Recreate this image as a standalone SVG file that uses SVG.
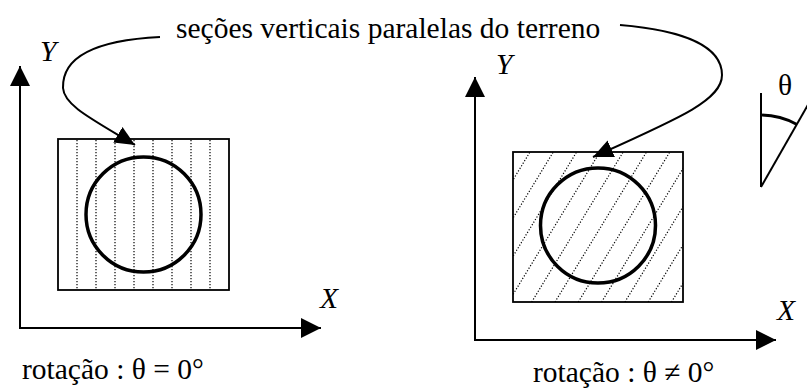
<svg xmlns="http://www.w3.org/2000/svg" width="807" height="391" viewBox="0 0 807 391">
<style>
.t{font-family:"Liberation Serif","Times New Roman","DejaVu Serif",serif;font-size:29.5px;fill:#000}
.i{font-style:italic}
.ax{stroke:#000;stroke-width:2;fill:none}
.frame{stroke:#000;stroke-width:1.8;fill:none}
.circ{stroke:#000;stroke-width:3.5;fill:none}
.dot{stroke:#000;stroke-width:1.2;stroke-dasharray:1.2 1.8;fill:none}
.conn{stroke:#000;stroke-width:2;fill:none}
</style>
<defs>
<marker id="ah" viewBox="0 0 20 20" refX="20" refY="10" markerWidth="20" markerHeight="20" markerUnits="userSpaceOnUse" orient="auto">
<path d="M0,0 L20,10 L0,20 z" fill="#000"/>
</marker>
<marker id="ah2" viewBox="0 0 20 20" refX="20" refY="10" markerWidth="20" markerHeight="20" markerUnits="userSpaceOnUse" orient="auto">
<path d="M0,1 L20,10 L0,19 z" fill="#000"/>
</marker>
<clipPath id="cr"><rect x="513" y="152" width="170" height="150"/></clipPath>
</defs>
<text class="t" x="176" y="38">seções verticais paralelas do terreno</text>
<g id="left-panel">
<path class="ax" d="M20,328 V66" marker-end="url(#ah)"/>
<path class="ax" d="M19,328 H321" marker-end="url(#ah)"/>
<text class="t i" x="40" y="61">Y</text>
<text class="t i" x="320" y="308">X</text>
<g>
<line class="dot" x1="77" y1="140" x2="77" y2="290"/>
<line class="dot" x1="96" y1="140" x2="96" y2="290"/>
<line class="dot" x1="115" y1="140" x2="115" y2="290"/>
<line class="dot" x1="134" y1="140" x2="134" y2="290"/>
<line class="dot" x1="153" y1="140" x2="153" y2="290"/>
<line class="dot" x1="172" y1="140" x2="172" y2="290"/>
<line class="dot" x1="191" y1="140" x2="191" y2="290"/>
<line class="dot" x1="210" y1="140" x2="210" y2="290"/>
</g>
<rect class="frame" x="58" y="139" width="171" height="151"/>
<circle class="circ" cx="143.5" cy="214.5" r="57.5"/>
<text class="t" x="22" y="379">rotação : θ = 0°</text>
</g>
<g id="right-panel">
<path class="ax" d="M475,340 V77" marker-end="url(#ah)"/>
<path class="ax" d="M474,340 H776" marker-end="url(#ah)"/>
<text class="t i" x="496" y="74">Y</text>
<text class="t i" x="777" y="320">X</text>
<g clip-path="url(#cr)">
<line class="dot" x1="438.5" y1="302" x2="530" y2="152"/>
<line class="dot" x1="461.8" y1="302" x2="553.3" y2="152"/>
<line class="dot" x1="485.1" y1="302" x2="576.6" y2="152"/>
<line class="dot" x1="508.4" y1="302" x2="599.9" y2="152"/>
<line class="dot" x1="531.7" y1="302" x2="623.2" y2="152"/>
<line class="dot" x1="555" y1="302" x2="646.5" y2="152"/>
<line class="dot" x1="578.3" y1="302" x2="669.8" y2="152"/>
<line class="dot" x1="601.6" y1="302" x2="693.1" y2="152"/>
<line class="dot" x1="624.9" y1="302" x2="716.4" y2="152"/>
<line class="dot" x1="648.2" y1="302" x2="739.7" y2="152"/>
<line class="dot" x1="671.5" y1="302" x2="763" y2="152"/>
</g>
<rect class="frame" x="513" y="152" width="170" height="150"/>
<circle class="circ" cx="598" cy="225.5" r="57.5"/>
<text class="t" x="533" y="382">rotação : θ ≠ 0°</text>
</g>
<g id="angle">
<line class="ax" x1="761" y1="93" x2="761" y2="187"/>
<line class="ax" x1="761" y1="187" x2="813" y2="96"/>
<path d="M761,115 A72,72 0 0 1 796.5,124.3" stroke="#000" stroke-width="2.8" fill="none"/>
<text class="t" x="778" y="95">θ</text>
</g>
<g id="connectors">
<path class="conn" d="M160,37 C100,40 62,55 63,88 C64,105 90,118 135,145" marker-end="url(#ah2)"/>
<path class="conn" d="M620,25 C680,30 722,45 722,75 C722,100 680,118 593,157" marker-end="url(#ah2)"/>
</g>
</svg>
